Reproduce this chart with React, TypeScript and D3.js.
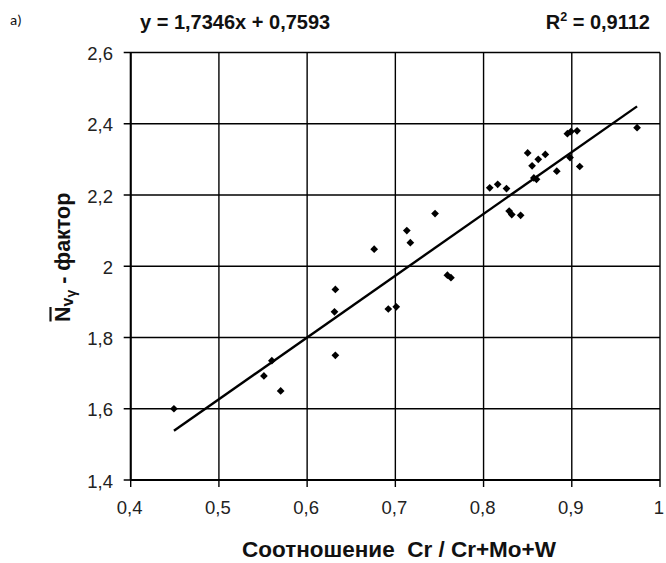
import React from "react";
import * as d3 from "d3";

// Measured ratio Cr / (Cr+Mo+W) and the corresponding N̄vγ factor
const ratioValues = [
  0.449, 0.551, 0.56, 0.57, 0.632, 0.631, 0.632, 0.676, 0.692, 0.701,
  0.713, 0.717, 0.745, 0.759, 0.763, 0.807, 0.816, 0.826, 0.829, 0.832,
  0.842, 0.85, 0.862, 0.87, 0.855, 0.857, 0.86, 0.883, 0.895, 0.899,
  0.906, 0.898, 0.909, 0.974,
];
const factorValues = [
  1.6, 1.692, 1.735, 1.65, 1.935, 1.872, 1.75, 2.048, 1.88, 1.886,
  2.1, 2.066, 2.148, 1.975, 1.968, 2.22, 2.23, 2.218, 2.155, 2.145,
  2.143, 2.318, 2.3, 2.314, 2.282, 2.248, 2.244, 2.267, 2.372, 2.378,
  2.38, 2.305, 2.28, 2.389,
];

// Linear trend y = slope * x + intercept
const slope = 1.7346;
const intercept = 0.7593;
const rSquared = "0,9112";

const xTicks = [0.4, 0.5, 0.6, 0.7, 0.8, 0.9, 1.0];
const yTicks = [1.4, 1.6, 1.8, 2.0, 2.2, 2.4, 2.6];

const fmt = (v: number) => d3.format("~g")(+v.toFixed(2)).replace(".", ",");

export default function App() {
  const W = 666;
  const H = 563;
  const left = 130.7;
  const right = 660;
  const top = 52.5;
  const bottom = 480;

  const x = d3.scaleLinear().domain([0.4, 1.0]).range([left, right]);
  const y = d3.scaleLinear().domain([1.4, 2.6]).range([bottom, top]);

  const trendX = [d3.min(ratioValues)!, d3.max(ratioValues)!];
  const trendLine = d3
    .line<number>()
    .x((v) => x(v))
    .y((v) => y(slope * v + intercept))(trendX);

  // square rotated 45° gives the diamond marker
  const marker = d3.symbol().type(d3.symbolSquare).size(30)()!;

  const font = "Arial, 'Liberation Sans', sans-serif";
  const ink = "#111";

  return (
    <svg
      width={W}
      height={H}
      style={{ position: "absolute", left: 0, top: 0, background: "#fff" }}
      fontFamily={font}
    >
      <rect width={W} height={H} fill="#fff" />
      <text x={10} y={25} fontSize={15} fontFamily="Carlito, Calibri, 'Open Sans', sans-serif" fill={ink}>
        a)
      </text>
      <text x={140} y={29} fontSize={20} fontWeight="bold" fill={ink}>
        {`y = ${String(slope).replace(".", ",")}x + ${String(intercept).replace(".", ",")}`}
      </text>
      <text x={650} y={29} fontSize={20} fontWeight="bold" fill={ink} textAnchor="end">
        R<tspan dy={-8} fontSize={12.5}>2</tspan>
        <tspan dy={8}>{` = ${rSquared}`}</tspan>
      </text>

      {/* grid */}
      {xTicks.map((t) => (
        <line key={"gx" + t} x1={x(t)} x2={x(t)} y1={top} y2={bottom + 7} stroke="#000" strokeWidth={1.4} />
      ))}
      {yTicks.map((t) => (
        <line key={"gy" + t} x1={left - 7} x2={right} y1={y(t)} y2={y(t)} stroke="#000" strokeWidth={1.4} />
      ))}
      <line x1={left} x2={left} y1={top} y2={bottom} stroke="#000" strokeWidth={2} />
      <line x1={left} x2={right} y1={bottom} y2={bottom} stroke="#000" strokeWidth={2} />

      {/* tick labels */}
      {yTicks.map((t) => (
        <text key={"ly" + t} x={113} y={y(t) + 7.5} fontSize={18.5} textAnchor="end" fill="#222">
          {fmt(t)}
        </text>
      ))}
      {xTicks.map((t) => (
        <text key={"lx" + t} x={x(t) - 1} y={514} fontSize={18.5} textAnchor="middle" fill="#222">
          {fmt(t)}
        </text>
      ))}

      {/* trend line */}
      <path d={trendLine!} fill="none" stroke="#000" strokeWidth={2.4} />

      {/* points */}
      {ratioValues.map((r, i) => (
        <path
          key={"p" + i}
          d={marker}
          transform={`translate(${x(r)},${y(factorValues[i])}) rotate(45)`}
          fill="#000"
        />
      ))}

      {/* axis titles */}
      <text x={399} y={557} fontSize={22.5} fontWeight="bold" textAnchor="middle" fill={ink} style={{ whiteSpace: "pre" }}>
        Соотношение  Cr / Cr+Mo+W
      </text>
      <g transform="translate(70,322) rotate(-90)">
        <text x={0} y={0} fontSize={21.5} fontWeight="bold" fill={ink} style={{ whiteSpace: "pre" }}>
          <tspan>N</tspan>
          <tspan dy={3} fontSize={16}>v</tspan>
          <tspan dy={3} fontSize={14}>γ</tspan>
          <tspan dy={-6}> - фактор</tspan>
        </text>
        <line x1={0.5} x2={15} y1={-19.5} y2={-19.5} stroke={ink} strokeWidth={2.2} />
      </g>
    </svg>
  );
}
